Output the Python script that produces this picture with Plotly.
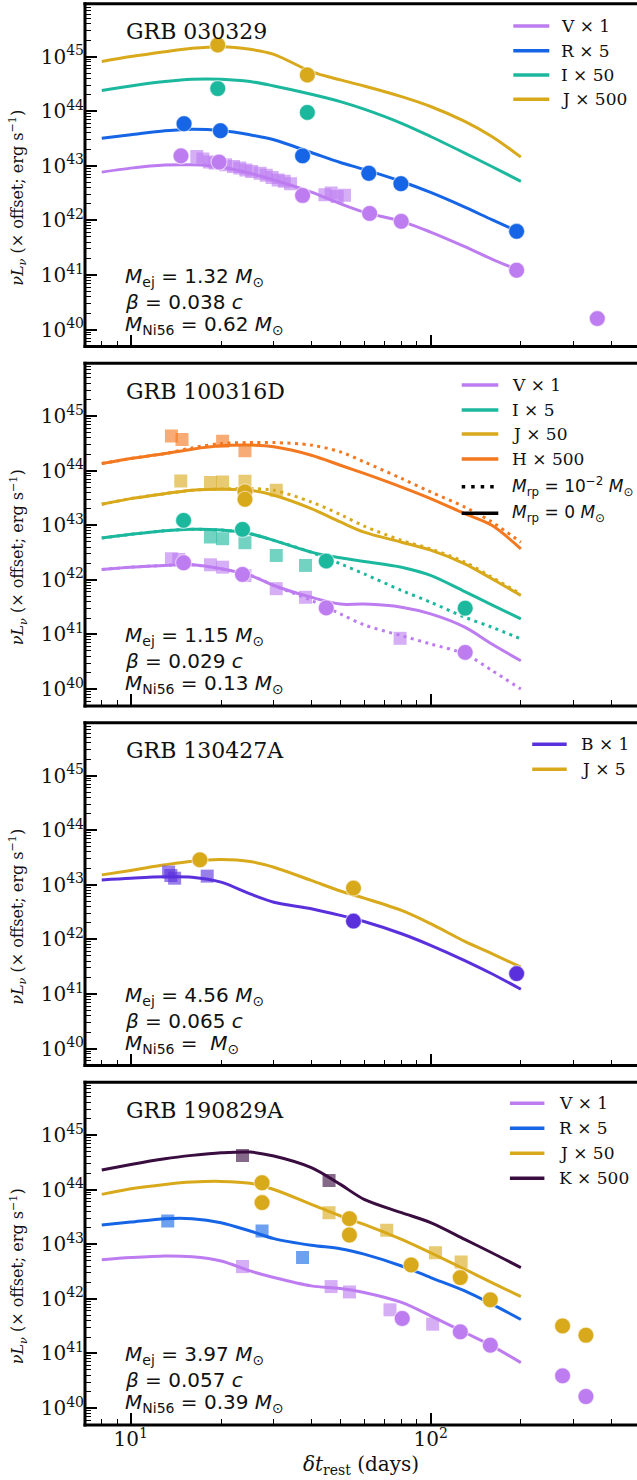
import plotly.graph_objects as go
from plotly.subplots import make_subplots

# ---------------- data ----------------
t_model = [8, 10, 13, 16, 20, 25, 30, 40, 50, 60, 80, 100, 130, 160, 200]

# GRB 030329
g1_V_model = [7.66e42, 9.06e42, 1.03e43, 1.04e43, 9.5e42, 7.3e42, 5.5e42, 3.3e42, 2.02e42, 1.42e42, 9.6e41, 6.1e41, 3.3e41, 1.96e41, 1.17e41]
g1_R_model = [3.2e43, 3.7e43, 4.37e43, 4.69e43, 4.43e43, 3.69e43, 2.99e43, 1.75e43, 1.15e43, 8.6e42, 5.16e42, 3.25e42, 1.75e42, 1.03e42, 5.9e41]
g1_I_model = [2.39e44, 2.9e44, 3.49e44, 3.85e44, 3.85e44, 3.49e44, 2.9e44, 2.05e44, 1.5e44, 1.09e44, 6.0e43, 3.44e43, 1.71e43, 9.7e42, 5.2e42]
g1_J_model = [8.1e44, 1.0e45, 1.23e45, 1.42e45, 1.52e45, 1.36e45, 1.1e45, 5.3e44, 3.74e44, 2.9e44, 1.85e44, 1.22e44, 6.5e43, 3.44e43, 1.44e43]
g1_V_circ_t = [14.7, 19.7, 37.4, 62.6, 79.8, 193.6, 359.7]
g1_V_circ_L = [1.52e43, 1.17e43, 2.86e42, 1.34e42, 9.6e41, 1.22e41, 1.59e40]
g1_V_sq_t = [16.6, 17.4, 18.3, 19.1, 20.7, 22.0, 23.1, 24.2, 25.3, 27.0, 28.3, 29.6, 31.0, 32.5, 34.1, 44.4, 46.6, 48.8, 51.6]
g1_V_sq_L = [1.48e43, 1.33e43, 1.17e43, 1.12e43, 1.04e43, 9.7e42, 9.1e42, 8.4e42, 7.9e42, 7.3e42, 6.7e42, 6.1e42, 5.5e42, 5.2e42, 4.7e42, 2.95e42, 3.17e42, 2.75e42, 2.9e42]
g1_R_circ_t = [15.05, 19.9, 37.4, 62.2, 79.6, 193.6]
g1_R_circ_L = [5.9e43, 4.4e43, 1.52e43, 7.3e42, 4.7e42, 6.3e41]
g1_I_circ_t = [19.5, 38.8]
g1_I_circ_L = [2.6e44, 9.5e43]
g1_J_circ_t = [19.5, 38.8]
g1_J_circ_L = [1.63e45, 4.6e44]

# GRB 100316D  (solid: M_rp = 0, dotted: M_rp = 1e-2)
g2_H_model = [1.35e44, 1.67e44, 2.06e44, 2.48e44, 2.85e44, 2.94e44, 2.74e44, 1.92e44, 1.26e44, 8.9e43, 5.0e43, 3.08e43, 1.63e43, 9.98e42, 3.7e42]
g2_H_model_rp = [1.35e44, 1.67e44, 2.06e44, 2.62e44, 3.15e44, 3.28e44, 3.28e44, 2.94e44, 2.21e44, 1.45e44, 7.2e43, 4.08e43, 2.16e43, 1.15e43, 4.9e42]
g2_J_model = [2.42e43, 3.08e43, 3.8e43, 4.38e43, 4.57e43, 4.38e43, 3.55e43, 2.02e43, 1.15e43, 7.5e42, 4.9e42, 3.5e42, 1.97e42, 1.05e42, 5.2e41]
g2_J_model_rp = [2.42e43, 3.08e43, 3.8e43, 4.38e43, 4.6e43, 4.7e43, 4.38e43, 2.67e43, 1.57e43, 9.7e42, 5.3e42, 3.7e42, 2.12e42, 1.12e42, 5.5e41]
g2_I_model = [5.84e42, 6.82e42, 7.96e42, 8.42e42, 8.18e42, 7.0e42, 5.29e42, 3.23e42, 2.54e42, 2.18e42, 1.71e42, 1.21e42, 6.1e41, 3.5e41, 1.93e41]
g2_I_model_rp = [5.84e42, 6.82e42, 7.96e42, 8.42e42, 8.18e42, 7.0e42, 5.29e42, 3.2e42, 1.97e42, 1.29e42, 6.4e41, 3.9e41, 2.07e41, 1.36e41, 8.3e40]
g2_V_model = [1.55e42, 1.71e42, 1.84e42, 1.89e42, 1.6e42, 1.21e42, 7.9e41, 4.8e41, 3.6e41, 3.6e41, 3.16e41, 2.38e41, 1.36e41, 6.7e40, 3.3e40]
g2_V_model_rp = [1.55e42, 1.71e42, 1.84e42, 1.89e42, 1.6e42, 1.21e42, 7.9e41, 4.2e41, 2.38e41, 1.5e41, 9.5e40, 6.7e40, 4.4e40, 2.2e40, 1.0e40]
g2_H_sq_t = [13.66, 14.82, 20.24, 24.03]
g2_H_sq_L = [4.3e44, 3.73e44, 3.47e44, 2.31e44]
g2_J_sq_t = [14.68, 18.43, 20.24, 24.03, 30.56]
g2_J_sq_L = [6.5e43, 6.05e43, 6.2e43, 6.4e43, 4.4e43]
g2_J_circ_t = [24.03, 24.03]
g2_J_circ_L = [4.1e43, 3.0e43]
g2_I_circ_t = [15.0, 23.58, 44.86, 130.4]
g2_I_circ_L = [1.23e43, 8.4e42, 2.21e42, 3.03e41]
g2_I_sq_t = [18.43, 20.24, 24.03, 30.56, 38.25]
g2_I_sq_L = [6.1e42, 5.68e42, 4.8e42, 2.8e42, 1.84e42]
g2_V_circ_t = [15.0, 23.58, 44.86, 130.4]
g2_V_circ_L = [2.06e42, 1.26e42, 3.07e41, 4.7e40]
g2_V_sq_t = [13.66, 14.45, 18.43, 20.24, 24.03, 30.56, 38.25, 79.1]
g2_V_sq_L = [2.44e42, 2.37e42, 1.89e42, 1.71e42, 1.2e42, 6.9e41, 4.8e41, 8.5e40]

# GRB 130427A
g3_J_model = [1.52e43, 1.83e43, 2.32e43, 2.71e43, 2.9e43, 2.67e43, 2.1e43, 1.2e43, 7.7e42, 5.7e42, 3.39e42, 1.94e42, 9.2e41, 5.5e41, 3.1e41]
g3_B_model = [1.23e43, 1.32e43, 1.4e43, 1.38e43, 1.12e43, 6.8e42, 4.8e42, 3.64e42, 2.75e42, 2.13e42, 1.27e42, 7.8e41, 4.1e41, 2.35e41, 1.22e41]
g3_J_circ_t = [17.0, 55.3]
g3_J_circ_L = [2.87e43, 8.7e42]
g3_B_circ_t = [55.3, 193.6]
g3_B_circ_L = [2.16e42, 2.36e41]
g3_B_sq_t = [13.37, 13.6, 14.0, 17.98]
g3_B_sq_L = [1.71e43, 1.48e43, 1.32e43, 1.44e43]

# GRB 190829A
g4_K_model = [2.29e44, 2.9e44, 3.69e44, 4.25e44, 4.75e44, 4.89e44, 4.13e44, 2.53e44, 1.25e44, 6.65e43, 3.8e43, 2.49e43, 1.23e43, 7.0e42, 3.74e42]
g4_J_model = [8.2e43, 1.04e44, 1.25e44, 1.38e44, 1.42e44, 1.31e44, 1.01e44, 5.4e43, 3.3e43, 2.32e43, 1.23e43, 7.0e42, 3.49e42, 1.99e42, 1.1e42]
g4_R_model = [2.26e43, 2.56e43, 2.95e43, 2.95e43, 2.49e43, 1.75e43, 1.27e43, 9.6e42, 8.3e42, 6.6e42, 4.0e42, 2.46e42, 1.4e42, 8.0e41, 4.2e41]
g4_V_model = [5.2e42, 5.7e42, 6.1e42, 5.9e42, 4.95e42, 3.25e42, 2.46e42, 1.73e42, 1.55e42, 1.31e42, 8.6e41, 4.9e41, 2.42e41, 1.38e41, 6.8e40]
g4_K_sq_t = [23.58, 45.84]
g4_K_sq_L = [4.25e44, 1.48e44]
g4_J_circ_t = [27.4, 27.4, 53.6, 53.6, 86.1, 125.6, 158.2, 275.5, 329.6]
g4_J_circ_L = [1.34e44, 5.8e43, 2.95e43, 1.48e43, 4.19e42, 2.46e42, 9.6e41, 3.2e41, 2.16e41]
g4_J_sq_t = [45.84, 71.4, 103.8, 126.4]
g4_J_sq_L = [3.8e43, 1.8e43, 7.0e42, 4.75e42]
g4_R_sq_t = [13.28, 27.4, 37.4]
g4_R_sq_L = [2.67e43, 1.75e43, 5.7e42]
g4_V_sq_t = [23.58, 46.56, 53.6, 73.2, 101.6]
g4_V_sq_L = [3.9e42, 1.68e42, 1.34e42, 6.3e41, 3.44e41]
g4_V_circ_t = [80.4, 125.6, 158.2, 275.5, 329.6]
g4_V_circ_L = [4.37e41, 2.49e41, 1.42e41, 3.9e40, 1.63e40]

grb_names = ["GRB 030329", "GRB 100316D", "GRB 130427A", "GRB 190829A"]
param_text = [
    ["<i>M</i><sub>ej</sub> = 1.32 <i>M</i><sub>⊙</sub>", "<i>β</i> = 0.038 <i>c</i>", "<i>M</i><sub>Ni56</sub> = 0.62 <i>M</i><sub>⊙</sub>"],
    ["<i>M</i><sub>ej</sub> = 1.15 <i>M</i><sub>⊙</sub>", "<i>β</i> = 0.029 <i>c</i>", "<i>M</i><sub>Ni56</sub> = 0.13 <i>M</i><sub>⊙</sub>"],
    ["<i>M</i><sub>ej</sub> = 4.56 <i>M</i><sub>⊙</sub>", "<i>β</i> = 0.065 <i>c</i>", "<i>M</i><sub>Ni56</sub> = &nbsp;<i>M</i><sub>⊙</sub>"],
    ["<i>M</i><sub>ej</sub> = 3.97 <i>M</i><sub>⊙</sub>", "<i>β</i> = 0.057 <i>c</i>", "<i>M</i><sub>Ni56</sub> = 0.39 <i>M</i><sub>⊙</sub>"],
]
leg1_labels = ["V × 1", "R × 5", "I × 50", "J × 500"]
leg2_labels = ["V × 1", "I × 5", "J × 50", "H × 500",
               "<i>M</i><sub>rp</sub> = 10<sup>−2</sup> <i>M</i><sub>⊙</sub>",
               "<i>M</i><sub>rp</sub> = 0 <i>M</i><sub>⊙</sub>"]
leg3_labels = ["B × 1", "J × 5"]
leg4_labels = ["V × 1", "R × 5", "J × 50", "K × 500"]
y_title = "<i>νL</i><sub><i>ν</i></sub> (× offset; erg s<sup>−1</sup>)"
x_title = "<i>δt</i><sub>rest</sub> (days)"

x_tick_vals = [10, 100]
x_tick_text = ["10<sup>1</sup>", "10<sup>2</sup>"]
x_minor_vals = [8, 9, 20, 30, 40, 50, 60, 70, 80, 90, 200, 300, 400]
y_tick_vals = [1e40, 1e41, 1e42, 1e43, 1e44, 1e45]
y_tick_text = ["10<sup>40</sup>", "10<sup>41</sup>", "10<sup>42</sup>", "10<sup>43</sup>", "10<sup>44</sup>", "10<sup>45</sup>"]
y_minor_vals = [m * 10.0 ** e for e in range(39, 46) for m in range(2, 10)]

# ---------------- style ----------------
C_V = "#bd7cf0"
C_R = "#1565e6"
C_I = "#1cb89e"
C_J = "#d9a91c"
C_H = "#f3781f"
C_B = "#5a30dc"
C_K = "#3a0d40"

SERIF = "DejaVu Serif"
SANS = "DejaVu Sans"
W, H = 637, 1480
X0_PX = 85.0
PANEL_TOP = [3.8, 363.3, 722.8, 1082.3]
PANEL_H = 342.7
X_RANGE = [0.8472, 2.6884]
Y_RANGE = [39.69, 45.967]


def px(xp):
    return xp / W


def py(yp):
    return 1 - yp / H


fig = make_subplots(rows=4, cols=1)


def add_line(row, y, color, dash=None):
    fig.add_trace(go.Scatter(
        x=t_model, y=y, mode="lines",
        line=dict(color=color, width=3, dash=dash, shape="spline", smoothing=0.9),
        showlegend=False, hoverinfo="skip"), row=row, col=1)


def add_pts(row, t, L, color, symbol):
    if symbol == "circle":
        marker = dict(symbol="circle", size=16, color=color, opacity=1.0,
                      line=dict(color="rgba(255,255,255,0.55)", width=1.2))
    else:
        marker = dict(symbol="square", size=13, color=color, opacity=0.62,
                      line=dict(width=0))
    fig.add_trace(go.Scatter(x=t, y=L, mode="markers", marker=marker,
                             showlegend=False), row=row, col=1)


# panel 1
add_line(1, g1_V_model, C_V)
add_line(1, g1_R_model, C_R)
add_line(1, g1_I_model, C_I)
add_line(1, g1_J_model, C_J)
add_pts(1, g1_V_sq_t, g1_V_sq_L, C_V, "square")
add_pts(1, g1_V_circ_t, g1_V_circ_L, C_V, "circle")
add_pts(1, g1_R_circ_t, g1_R_circ_L, C_R, "circle")
add_pts(1, g1_I_circ_t, g1_I_circ_L, C_I, "circle")
add_pts(1, g1_J_circ_t, g1_J_circ_L, C_J, "circle")

# panel 2
DOT = "3px,4.5px"
for sol, dot, c in [(g2_V_model, g2_V_model_rp, C_V), (g2_I_model, g2_I_model_rp, C_I),
                    (g2_J_model, g2_J_model_rp, C_J), (g2_H_model, g2_H_model_rp, C_H)]:
    add_line(2, dot, c, DOT)
    add_line(2, sol, c)
add_pts(2, g2_H_sq_t, g2_H_sq_L, C_H, "square")
add_pts(2, g2_J_sq_t, g2_J_sq_L, C_J, "square")
add_pts(2, g2_I_sq_t, g2_I_sq_L, C_I, "square")
add_pts(2, g2_V_sq_t, g2_V_sq_L, C_V, "square")
add_pts(2, g2_J_circ_t, g2_J_circ_L, C_J, "circle")
add_pts(2, g2_I_circ_t, g2_I_circ_L, C_I, "circle")
add_pts(2, g2_V_circ_t, g2_V_circ_L, C_V, "circle")

# panel 3
add_line(3, g3_B_model, C_B)
add_line(3, g3_J_model, C_J)
add_pts(3, g3_B_sq_t, g3_B_sq_L, C_B, "square")
add_pts(3, g3_J_circ_t, g3_J_circ_L, C_J, "circle")
add_pts(3, g3_B_circ_t, g3_B_circ_L, C_B, "circle")

# panel 4
add_line(4, g4_V_model, C_V)
add_line(4, g4_R_model, C_R)
add_line(4, g4_J_model, C_J)
add_line(4, g4_K_model, C_K)
add_pts(4, g4_K_sq_t, g4_K_sq_L, C_K, "square")
add_pts(4, g4_J_sq_t, g4_J_sq_L, C_J, "square")
add_pts(4, g4_R_sq_t, g4_R_sq_L, C_R, "square")
add_pts(4, g4_V_sq_t, g4_V_sq_L, C_V, "square")
add_pts(4, g4_J_circ_t, g4_J_circ_L, C_J, "circle")
add_pts(4, g4_V_circ_t, g4_V_circ_L, C_V, "circle")

# ---------------- axes ----------------
for i in range(4):
    top = PANEL_TOP[i]
    bot = top + PANEL_H
    xa = "xaxis" if i == 0 else f"xaxis{i+1}"
    ya = "yaxis" if i == 0 else f"yaxis{i+1}"
    fig.layout[xa].update(
        type="log", range=X_RANGE, domain=[px(X0_PX), 1.0],
        tickmode="array", tickvals=x_tick_vals, ticktext=x_tick_text,
        showticklabels=(i == 3), ticks="inside", ticklen=12, tickwidth=1.6,
        tickcolor="black", showgrid=False, zeroline=False, showline=False,
        tickfont=dict(family=SERIF, size=20, color="#111"),
        minor=dict(tickmode="array", tickvals=x_minor_vals, ticks="inside",
                   ticklen=6, tickwidth=1.2, tickcolor="black", showgrid=False),
        automargin=False,
    )
    fig.layout[ya].update(
        type="log", range=Y_RANGE, domain=[py(bot), py(top)],
        tickmode="array", tickvals=y_tick_vals, ticktext=y_tick_text,
        ticks="inside", ticklen=12, tickwidth=1.6, tickcolor="black",
        showgrid=False, zeroline=False, showline=False,
        tickfont=dict(family=SERIF, size=20, color="#111"),
        minor=dict(tickmode="array", tickvals=y_minor_vals, ticks="inside",
                   ticklen=6, tickwidth=1.2, tickcolor="black", showgrid=False),
        automargin=False,
    )
fig.layout["xaxis4"].title = dict(text=x_title, font=dict(family=SERIF, size=20, color="#111"), standoff=6)

# frames
shapes = []
for i in range(4):
    top = PANEL_TOP[i]
    bot = top + PANEL_H
    lw = 3
    shapes.append(dict(type="line", xref="paper", yref="paper", x0=px(X0_PX - 1.5), x1=1.0,
                       y0=py(top), y1=py(top), line=dict(color="black", width=lw)))
    shapes.append(dict(type="line", xref="paper", yref="paper", x0=px(X0_PX - 1.5), x1=1.0,
                       y0=py(bot), y1=py(bot), line=dict(color="black", width=lw)))
    shapes.append(dict(type="line", xref="paper", yref="paper", x0=px(X0_PX), x1=px(X0_PX),
                       y0=py(top - 1.5), y1=py(bot + 1.5), line=dict(color="black", width=lw)))

annotations = []
for i in range(4):
    top = PANEL_TOP[i]
    # y-axis title of each panel (rotated, anchored at the start of the text)
    annotations.append(dict(text=y_title, xref="paper", yref="paper",
                            x=px(18), y=py(top + 284), xanchor="center", yanchor="bottom",
                            textangle=-90, showarrow=False,
                            font=dict(family=SERIF, size=16, color="#111")))
    annotations.append(dict(text=grb_names[i], xref="paper", yref="paper",
                            x=px(124), y=py(top + 28), xanchor="left", yanchor="middle",
                            showarrow=False, font=dict(family=SERIF, size=22, color="#111")))
    for j, off in enumerate([273, 298, 321]):
        annotations.append(dict(text=param_text[i][j], xref="paper", yref="paper",
                                x=px(123), y=py(top + off), xanchor="left", yanchor="middle",
                                showarrow=False, font=dict(family=SANS, size=20, color="#111")))

# manual legends (line sample + label)
legends = [
    (leg1_labels, [C_V, C_R, C_I, C_J], [None] * 4, 513.3, 549.3, 559.3, [26, 50.7, 75, 99.3]),
    (leg2_labels, [C_V, C_I, C_J, C_H, "black", "black"], [None, None, None, None, "3.5px,6px", None],
     461.7, 498.3, 510, [385, 410, 434, 459, 486.7, 513.3]),
    (leg3_labels, [C_B, C_J], [None, None], 532.2, 566.7, 579, [744.3, 769.3]),
    (leg4_labels, [C_V, C_R, C_J, C_K], [None] * 4, 509.9, 544.4, 556.6, [1103.3, 1128.3, 1153.3, 1178.3]),
]
for labels, colors, dashes, lx0, lx1, tx, rows in legends:
    for lab, col, dsh, ry in zip(labels, colors, dashes, rows):
        ln = dict(color=col, width=3.5)
        if dsh:
            ln["dash"] = dsh
        shapes.append(dict(type="line", xref="paper", yref="paper", x0=px(lx0), x1=px(lx1),
                           y0=py(ry), y1=py(ry), line=ln))
        fam = SANS if "M</i>" in lab else SERIF
        annotations.append(dict(text=lab, xref="paper", yref="paper", x=px(tx), y=py(ry),
                                xanchor="left", yanchor="middle", showarrow=False,
                                font=dict(family=fam, size=17, color="#111")))

fig.update_layout(
    width=W, height=H, margin=dict(l=0, r=0, t=0, b=0),
    paper_bgcolor="white", plot_bgcolor="white",
    showlegend=False, shapes=shapes, annotations=annotations,
    font=dict(family=SERIF, color="#111"),
)

fig.write_html("out.html")
